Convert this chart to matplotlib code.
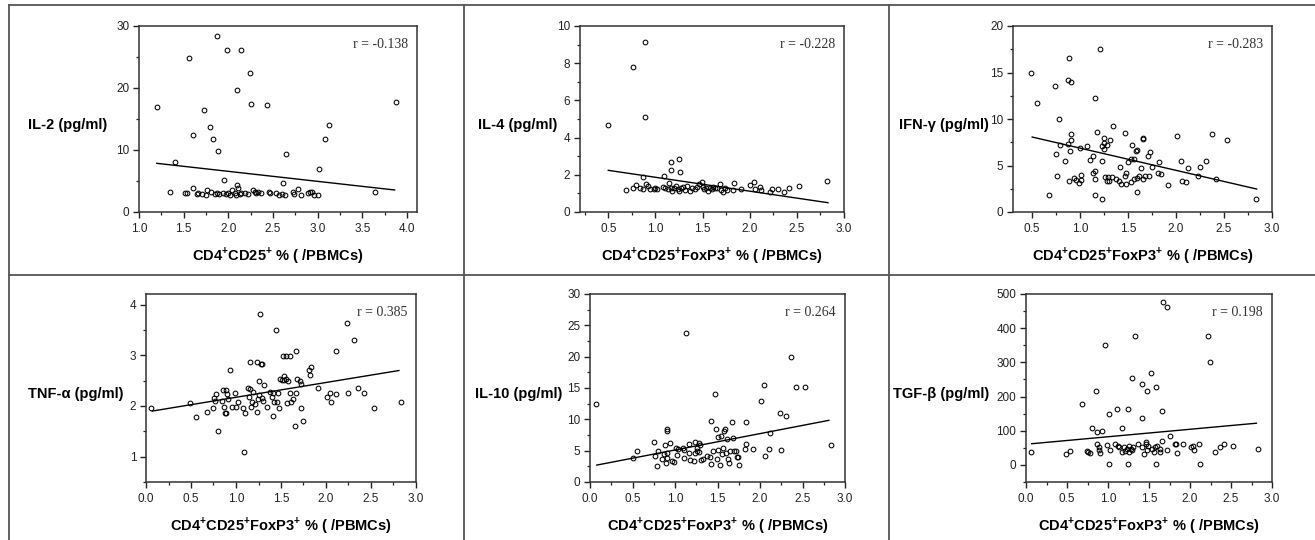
import matplotlib
matplotlib.use('Agg')
import matplotlib.pyplot as plt
from matplotlib.lines import Line2D
from matplotlib.ticker import MultipleLocator

plt.rcParams['font.family'] = ['Liberation Sans', 'DejaVu Sans']
plt.rcParams['mathtext.fontset'] = 'custom'
plt.rcParams['mathtext.rm'] = 'Liberation Sans'
plt.rcParams['mathtext.bf'] = 'Liberation Sans:bold'

W, H = 1315, 540

# ---------------------------------------------------------------- data
il2_x = [1.20, 1.40, 1.56, 1.60, 1.73, 1.79, 1.83, 1.87, 1.88, 1.99, 2.10, 2.14, 2.24, 2.25,
         2.43, 2.64, 2.61, 1.95, 3.01, 3.08, 3.12, 3.87, 3.64, 1.35,
         1.52, 1.54, 1.60, 1.65, 1.66, 1.71, 1.75, 1.76, 1.81, 1.85, 1.87, 1.89, 1.94, 1.97,
         2.00, 2.02, 2.04, 2.07, 2.08, 2.10, 2.11, 2.13, 2.14, 2.19, 2.22, 2.27, 2.30, 2.31,
         2.33, 2.36, 2.45, 2.47, 2.53, 2.57, 2.60, 2.63, 2.72, 2.73, 2.78, 2.81, 2.89, 2.91,
         2.94, 2.96, 3.00]
il2_y = [17.0, 8.1, 24.9, 12.4, 16.45, 13.7, 11.7, 28.4, 9.8, 26.2, 19.7, 26.2, 22.5, 17.5,
         17.3, 9.4, 4.6, 5.2, 7.0, 11.7, 14.0, 17.7, 3.3, 3.2,
         3.0, 3.1, 3.9, 2.9, 3.0, 2.9, 2.8, 3.5, 3.3, 2.9, 3.0, 2.9, 3.1, 2.9,
         3.0, 2.8, 3.6, 3.0, 2.7, 4.4, 3.9, 2.9, 3.1, 3.1, 2.9, 3.6, 3.2, 3.0,
         3.3, 3.1, 3.2, 3.0, 3.1, 2.8, 2.9, 2.8, 3.3, 2.9, 3.7, 2.8, 3.0, 3.2,
         3.3, 2.8, 2.8]
il2_fit_x = [1.20, 3.86]
il2_fit_y = [7.85, 3.55]

il4_x = [0.50, 0.76, 0.89, 0.89, 0.87, 1.17, 1.17, 1.25, 1.26, 1.09, 1.14, 0.69,
         0.76, 0.79, 0.84, 0.87, 0.90, 0.92, 0.94, 0.98, 1.00, 1.02, 1.08, 1.10, 1.13,
         1.16, 1.18, 1.20, 1.22, 1.24, 1.25, 1.27, 1.29, 1.31, 1.33, 1.37, 1.39, 1.42,
         1.44, 1.46, 1.49, 1.50, 1.52, 1.54, 1.56, 1.58, 1.60, 1.61, 1.63, 1.65, 1.68,
         1.70, 1.72, 1.74, 1.76, 1.82, 1.83, 1.91, 2.00, 2.05, 2.06, 2.11, 2.12, 2.22,
         2.24, 2.30, 2.36, 2.42, 2.52, 2.82]
il4_y = [4.68, 7.78, 9.14, 5.09, 1.88, 2.67, 2.28, 2.87, 2.17, 1.94, 1.58, 1.16,
         1.31, 1.45, 1.27, 1.22, 1.49, 1.40, 1.22, 1.24, 1.29, 1.24, 1.36, 1.27, 1.22,
         1.31, 1.15, 1.31, 1.40, 1.22, 1.15, 1.27, 1.36, 1.18, 1.40, 1.15, 1.31, 1.22,
         1.36, 1.51, 1.63, 1.36, 1.22, 1.27, 1.15, 1.31, 1.22, 1.36, 1.31, 1.27, 1.49,
         1.18, 1.06, 1.31, 1.18, 1.18, 1.58, 1.22, 1.43, 1.63, 1.22, 1.36, 1.18, 1.06,
         1.25, 1.25, 1.06, 1.29, 1.40, 1.68]
il4_fit_x = [0.50, 2.83]
il4_fit_y = [2.24, 0.50]

ifn_x = [0.49, 0.55, 0.74, 0.78, 0.75, 0.79, 0.76, 0.68, 0.84, 0.87, 0.88, 0.88, 0.87, 0.90,
         0.90, 0.90, 0.89, 0.94, 0.96, 0.99, 1.01, 1.01, 1.00, 1.07, 1.10, 1.13, 1.13, 1.16,
         1.16, 1.16, 1.16, 1.18, 1.21, 1.23, 1.23, 1.23, 1.25, 1.25, 1.25, 1.26, 1.28, 1.28,
         1.29, 1.30, 1.31, 1.33, 1.34, 1.37, 1.40, 1.42, 1.43, 1.47, 1.47, 1.48, 1.48, 1.50,
         1.53, 1.53, 1.54, 1.56, 1.56, 1.58, 1.59, 1.59, 1.59, 1.61, 1.63, 1.65, 1.66, 1.66,
         1.68, 1.71, 1.72, 1.73, 1.75, 1.82, 1.81, 1.84, 1.92, 2.01, 2.05, 2.06, 2.10, 2.12,
         2.23, 2.25, 2.31, 2.37, 2.42, 2.53, 2.83]
ifn_y = [14.9, 11.7, 13.6, 10.0, 6.27, 7.17, 3.87, 1.83, 5.45, 7.31, 3.37, 16.56, 14.19, 14.0,
         8.39, 7.74, 6.56, 3.69, 3.44, 3.15, 4.01, 3.44, 6.92, 7.13, 5.59, 6.06, 4.23, 4.41,
         3.58, 12.29, 1.83, 8.57, 17.56, 1.36, 7.06, 5.45, 6.77, 7.96, 7.38, 3.76, 7.17, 3.30,
         3.76, 3.30, 7.74, 3.73, 9.28, 3.58, 3.33, 4.80, 3.01, 3.91, 8.53, 4.23, 3.01, 5.41,
         3.23, 5.70, 7.17, 3.51, 5.70, 6.56, 6.63, 3.69, 2.19, 3.84, 4.73, 7.96, 7.81, 3.58,
         3.91, 5.99, 3.91, 6.42, 4.87, 5.41, 4.23, 4.05, 2.94, 8.17, 5.45, 3.33, 3.26, 4.73,
         3.84, 4.80, 5.52, 8.39, 3.58, 7.78, 1.43]
ifn_fit_x = [0.50, 2.84]
ifn_fit_y = [8.06, 2.47]

tnf_x = [0.06, 0.49, 0.55, 0.68, 0.74, 0.76, 0.77, 0.78, 0.80, 0.85, 0.86, 0.87, 0.88, 0.89,
         0.89, 0.90, 0.91, 0.93, 0.96, 0.99, 1.00, 1.02, 1.08, 1.09, 1.10, 1.13, 1.14, 1.16,
         1.16, 1.17, 1.18, 1.19, 1.21, 1.23, 1.23, 1.24, 1.25, 1.26, 1.27, 1.28, 1.29, 1.29,
         1.30, 1.31, 1.34, 1.38, 1.40, 1.41, 1.41, 1.42, 1.45, 1.46, 1.47, 1.48, 1.49, 1.51,
         1.52, 1.53, 1.53, 1.55, 1.56, 1.57, 1.58, 1.60, 1.60, 1.61, 1.63, 1.66, 1.67, 1.67,
         1.68, 1.71, 1.72, 1.72, 1.74, 1.81, 1.82, 1.83, 1.91, 2.01, 2.05, 2.06, 2.11, 2.11,
         2.23, 2.24, 2.31, 2.36, 2.42, 2.53, 2.83]
tnf_y = [1.96, 2.05, 1.78, 1.89, 1.96, 2.15, 2.09, 2.23, 1.51, 2.09, 2.32, 1.98, 1.87, 1.87,
         2.32, 2.24, 2.14, 2.71, 1.98, 2.26, 1.98, 2.08, 1.96, 1.09, 1.87, 2.35, 2.18, 2.33,
         2.86, 1.98, 2.07, 2.27, 2.03, 2.86, 1.89, 2.13, 2.50, 2.21, 3.81, 2.82, 2.82, 2.15,
         2.09, 2.41, 1.98, 2.27, 2.17, 2.26, 1.80, 2.08, 3.49, 2.08, 2.26, 1.97, 2.54, 2.51,
         2.99, 2.60, 2.51, 2.99, 2.54, 2.05, 2.50, 2.99, 2.26, 2.08, 2.14, 1.61, 3.08, 2.26,
         2.53, 2.50, 2.44, 1.97, 1.71, 2.71, 2.62, 2.77, 2.35, 2.17, 2.26, 2.08, 3.08, 2.23,
         3.63, 2.26, 3.31, 2.35, 2.26, 1.96, 2.08]
tnf_fit_x = [0.07, 2.81]
tnf_fit_y = [1.90, 2.70]

il10_x = [0.07, 0.50, 0.55, 0.75, 0.77, 0.79, 0.80, 0.85, 0.87, 0.88, 0.89, 0.90, 0.91, 0.90,
          0.91, 0.94, 0.96, 0.99, 1.01, 1.02, 1.04, 1.09, 1.10, 1.11, 1.13, 1.17, 1.17, 1.18,
          1.22, 1.23, 1.24, 1.26, 1.26, 1.28, 1.28, 1.29, 1.31, 1.33, 1.38, 1.41, 1.42, 1.42,
          1.45, 1.47, 1.48, 1.49, 1.51, 1.51, 1.53, 1.54, 1.55, 1.57, 1.58, 1.59, 1.60, 1.61,
          1.62, 1.64, 1.65, 1.67, 1.68, 1.69, 1.72, 1.73, 1.74, 1.75, 1.82, 1.83, 1.84, 1.92,
          2.01, 2.05, 2.06, 2.10, 2.12, 2.23, 2.25, 2.31, 2.37, 2.42, 2.53, 2.83]
il10_y = [12.4, 3.8, 4.9, 6.4, 4.2, 2.6, 4.9, 3.6, 4.4, 5.9, 3.1, 8.1, 8.4, 4.7,
          3.8, 6.3, 3.4, 3.2, 5.5, 4.3, 5.2, 5.5, 5.1, 3.8, 23.7, 4.6, 6.1, 3.5,
          3.4, 4.6, 6.4, 4.9, 5.5, 6.2, 4.8, 5.9, 3.5, 3.7, 4.1, 4.0, 2.8, 9.7,
          4.9, 14.0, 8.4, 3.6, 7.2, 5.1, 2.7, 7.4, 4.4, 5.5, 8.1, 8.4, 4.6, 6.9,
          3.6, 3.1, 4.9, 9.5, 7.0, 4.9, 5.0, 4.0, 4.0, 2.7, 5.2, 9.6, 6.0, 5.2,
          12.9, 15.4, 4.1, 5.3, 7.8, 11.0, 5.1, 10.6, 19.9, 15.2, 15.1, 5.9]
il10_fit_x = [0.08, 2.81]
il10_fit_y = [2.7, 9.84]

tgf_x = [0.06, 0.49, 0.54, 0.68, 0.74, 0.76, 0.78, 0.80, 0.85, 0.86, 0.87, 0.89, 0.89, 0.90,
         0.93, 0.96, 0.99, 1.01, 1.01, 1.02, 1.09, 1.11, 1.12, 1.14, 1.17, 1.17, 1.19, 1.21,
         1.23, 1.24, 1.24, 1.25, 1.26, 1.28, 1.29, 1.29, 1.30, 1.33, 1.37, 1.41, 1.41, 1.42,
         1.44, 1.46, 1.46, 1.48, 1.48, 1.49, 1.52, 1.54, 1.56, 1.57, 1.58, 1.59, 1.60, 1.63,
         1.64, 1.66, 1.66, 1.67, 1.72, 1.72, 1.75, 1.82, 1.83, 1.84, 1.92, 2.01, 2.04, 2.05,
         2.11, 2.12, 2.22, 2.24, 2.31, 2.37, 2.42, 2.53, 2.83]
tgf_y = [38, 32, 42, 178, 42, 38, 35, 109, 217, 61, 97, 53, 43, 35,
         100, 350, 59, 149, 4, 43, 61, 165, 56, 53, 109, 38, 53, 42,
         48, 165, 4, 56, 38, 48, 255, 43, 53, 378, 62, 237, 53, 136,
         32, 67, 62, 215, 43, 56, 270, 48, 37, 53, 4, 227, 56, 48,
         38, 70, 158, 477, 463, 45, 86, 61, 61, 35, 61, 51, 56, 45,
         61, 4, 377, 302, 37, 53, 61, 56, 48]
tgf_fit_x = [0.07, 2.81]
tgf_fit_y = [62, 122]

y_labels = ['IL-2 (pg/ml)', 'IL-4 (pg/ml)', 'IFN-\u03b3 (pg/ml)',
            'TNF-\u03b1 (pg/ml)', 'IL-10 (pg/ml)', 'TGF-\u03b2 (pg/ml)']
x_label_cd25 = r'CD4$^{\mathbf{+}}$CD25$^{\mathbf{+}}$ % ( /PBMCs)'
x_label_foxp3 = r'CD4$^{\mathbf{+}}$CD25$^{\mathbf{+}}$FoxP3$^{\mathbf{+}}$ % ( /PBMCs)'
r_texts = ['r = -0.138', 'r = -0.228', 'r = -0.283', 'r = 0.385', 'r = 0.264', 'r = 0.198']

# ---------------------------------------------------------------- layout (pixels)
panels = [
    # (left, right, top, bottom), xlim, ylim, ymajor, yminor, ylabel gap
    ((139, 417, 26, 212), (1.0, 4.11), (0, 30), 10, 5, 32),
    ((580, 844, 26, 212), (0.2, 3.0), (0, 10), 2, 1, 23),
    ((1013, 1272, 26, 212), (0.3, 3.0), (0, 20), 5, 2.5, 24),
    ((146, 416, 294, 482), (0.0, 3.0), (0.5, 4.21), 1, 0.5, 23),
    ((590, 845, 294, 482), (0.0, 3.0), (0, 30), 5, 2.5, 28),
    ((1026, 1272, 294, 482), (0.0, 3.0), (-50, 500), 100, 50, 37),
]
series = [(il2_x, il2_y, il2_fit_x, il2_fit_y),
          (il4_x, il4_y, il4_fit_x, il4_fit_y),
          (ifn_x, ifn_y, ifn_fit_x, ifn_fit_y),
          (tnf_x, tnf_y, tnf_fit_x, tnf_fit_y),
          (il10_x, il10_y, il10_fit_x, il10_fit_y),
          (tgf_x, tgf_y, tgf_fit_x, tgf_fit_y)]
x_labels = [x_label_cd25] + [x_label_foxp3] * 5

fig = plt.figure(figsize=(W / 100, H / 100), dpi=100)

# ramka tabeli
line_col = '#555555'
for (x0, y0, x1, y1) in [(9, 5, 9, 540), (9, 5, W, 5), (464, 5, 464, 540),
                         (889, 5, 889, 540), (9, 275, W, 275)]:
    fig.add_artist(Line2D([x0 / W, x1 / W], [1 - y0 / H, 1 - y1 / H],
                          color=line_col, lw=1.3))

for i, (box, xlim, ylim, ymaj, ymin, gap) in enumerate(panels):
    l, r, t, b = box
    ax = fig.add_axes([l / W, 1 - b / H, (r - l) / W, (b - t) / H])
    xs, ys, fx, fy = series[i]
    ax.plot(xs, ys, 'o', ms=3.4, mfc='none', mec='black', mew=0.75, zorder=3)
    ax.plot(fx, fy, color='black', lw=1.0, zorder=2)

    ax.set_xlim(xlim)
    ax.set_ylim(ylim)
    ax.xaxis.set_major_locator(MultipleLocator(0.5))
    ax.xaxis.set_minor_locator(MultipleLocator(0.25))
    ax.yaxis.set_major_locator(MultipleLocator(ymaj))
    ax.yaxis.set_minor_locator(MultipleLocator(ymin))
    ax.xaxis.set_major_formatter(plt.FormatStrFormatter('%.1f'))
    if i == 3:
        ax.set_yticks([1, 2, 3, 4])
    ax.tick_params(which='major', direction='out', length=4, width=1.0,
                   labelsize=8.5, pad=3, colors='#222222', labelcolor='#222222')
    ax.tick_params(which='minor', direction='out', length=2.5, width=0.9,
                   colors='#222222')
    ax.tick_params(axis='x', which='major', pad=4)
    for s in ax.spines.values():
        s.set_color('#333333')
        s.set_linewidth(1.1)

    ax.annotate(y_labels[i], xy=(0, 0.47), xycoords='axes fraction',
                xytext=(-gap, 0), textcoords='offset pixels',
                ha='right', va='center', fontsize=10.5, fontweight='bold')
    ax.annotate(x_labels[i], xy=(0.5, 0), xycoords='axes fraction',
                xytext=(0, -43), textcoords='offset pixels',
                ha='center', va='center', fontsize=10.5, fontweight='bold')
    ax.annotate(r_texts[i], xy=(1, 1), xycoords='axes fraction',
                xytext=(-9, -18), textcoords='offset pixels',
                ha='right', va='center', fontsize=10, color='#333333',
                family=['Liberation Serif', 'DejaVu Serif'])

fig.savefig('out.png', dpi=100)
